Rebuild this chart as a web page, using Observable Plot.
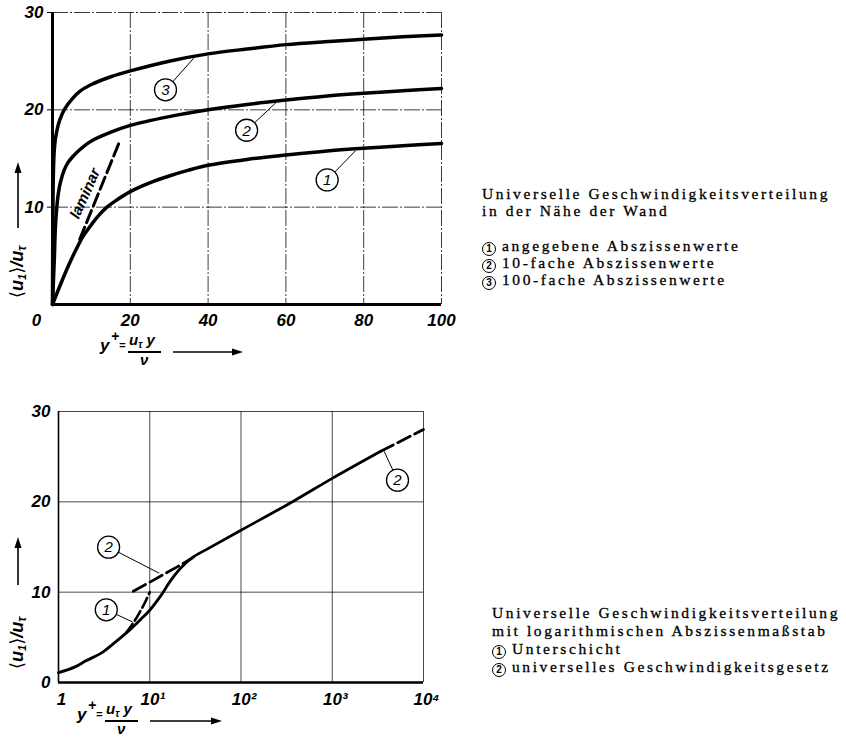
<!DOCTYPE html>
<html><head><meta charset="utf-8">
<script src="https://cdn.jsdelivr.net/npm/d3@7"></script>
<script src="https://cdn.jsdelivr.net/npm/@observablehq/plot@0.6"></script>
<style>
body{margin:0;background:#fff;}
#root{position:relative;width:846px;height:739px;overflow:hidden;background:#fff;}
.abs{position:absolute;}
.leg{position:absolute;font-family:"Liberation Serif",serif;font-size:15.5px;letter-spacing:2.6px;white-space:nowrap;color:#000;line-height:15px;height:15px;-webkit-text-stroke:0.3px #000;}
.lab{font-family:"Liberation Sans",sans-serif;font-style:italic;font-weight:bold;color:#000;white-space:nowrap;}
.br{font-family:"DejaVu Sans",sans-serif;font-style:normal;font-weight:normal;}
.sb{line-height:0;vertical-align:-3px;}
.circ{display:inline-block;width:12px;height:12px;border:1.4px solid #000;border-radius:50%;font-family:"Liberation Sans",sans-serif;font-size:10px;font-weight:bold;line-height:12px;text-align:center;letter-spacing:0;vertical-align:-1px;margin-right:6px;box-sizing:content-box;-webkit-text-stroke:0;}
</style></head>
<body><div id="root"></div>
<script>
// ---------- data: top chart (linear abscissa) ----------
const topTicksX = [20, 40, 60, 80, 100];
const topTicksY = [10, 20, 30];
const curve1X = [0, 2, 4, 6, 8, 10, 12, 14, 16, 20, 25, 30, 35, 40, 50, 60, 70, 80, 90, 100];
const curve1U = [0, 2, 3.9, 5.6, 7.1, 8.2, 9.2, 10.0, 10.6, 11.6, 12.5, 13.2, 13.8, 14.3, 14.9, 15.35, 15.75, 16.05, 16.3, 16.55];
const curve2X = [0, 0.3, 0.5, 0.7, 1, 1.5, 2, 3, 4, 5, 7, 10, 15, 20, 30, 40, 50, 60, 70, 80, 90, 100];
const curve2U = [0, 3, 5, 7.5, 9.5, 11.4, 12.5, 13.8, 14.6, 15.1, 15.9, 16.8, 17.7, 18.4, 19.3, 20.0, 20.55, 21.0, 21.4, 21.7, 21.95, 22.2];
const curve3X = [0, 0.05, 0.1, 0.2, 0.4, 0.7, 1, 1.5, 2, 3, 5, 7, 10, 15, 20, 30, 40, 50, 60, 70, 80, 90, 100];
const curve3U = [0, 5, 9, 13, 15.5, 16.9, 17.6, 18.5, 19.1, 20.0, 21.1, 21.9, 22.6, 23.4, 24.0, 25.0, 25.75, 26.25, 26.7, 27.0, 27.25, 27.5, 27.7];
const laminarX = [7, 17];
const laminarU = [6.7, 16.5];
const topLabels = ["1", "2", "3"];
const topLabelX = [70.6, 49.9, 29.05];
const topLabelU = [12.8, 17.9, 22.06];
const topLeaderX = [77.9, 57.6, 36.3];
const topLeaderU = [15.8, 20.8, 25.3];

// ---------- data: bottom chart (log abscissa) ----------
const botTicksX = [1, 10, 100, 1000, 10000];
const botTickText = ["1", "10¹", "10²", "10³", "10⁴"];
const botTicksY = [0, 10, 20, 30];
const profileX = [1, 1.5, 2, 3, 4, 6, 8, 10, 13, 17, 22, 30, 45, 100, 380, 1000, 3400];
const profileU = [1.1, 1.7, 2.4, 3.3, 4.3, 5.8, 7.0, 8.0, 9.5, 11.3, 12.7, 13.9, 14.9, 16.85, 20.1, 22.6, 25.6];
const sublayerX = [5.5, 6, 7, 8, 9, 10];
const sublayerU = [5.5, 6, 7, 8, 9, 10];
const logLawAX = [6.6, 10, 15, 20, 30];
const logLawAU = [10.1, 11.1, 12.1, 12.8, 13.85];
const logLawBX = [3400, 10000];
const logLawBU = [25.6, 28.0];
const botLabels = ["2", "1", "2"];
const botLabelX = [3.54, 3.34, 5190];
const botLabelU = [14.98, 8.05, 22.4];
const botLeaderX = [12.7, 6.5, 3700];
const botLeaderU = [12.1, 6.7, 25.6];

// ---------- helpers ----------
const pts = (xs, us) => xs.map((x, i) => ({x, u: us[i]}));
const tickFont = {fontFamily: "Liberation Sans", fontSize: 17, fontStyle: "italic", fontWeight: "bold"};
const root = document.getElementById("root");

// ---------- top plot ----------
const topAnno = topLabels.map((t, i) => ({t, x: topLabelX[i], u: topLabelU[i], x2: topLeaderX[i], u2: topLeaderU[i]}));
const topPlot = Plot.plot({
  width: 460, height: 330,
  marginLeft: 52, marginRight: 19, marginTop: 12, marginBottom: 26,
  x: {domain: [0, 100]},
  y: {domain: [0, 30]},
  style: {fontFamily: "Liberation Sans", background: "transparent", overflow: "visible"},
  marks: [
    Plot.gridX(topTicksX, {stroke: "#000", strokeOpacity: 0.85, strokeWidth: 0.9, strokeDasharray: "16,2,2,2"}),
    Plot.gridY(topTicksY, {stroke: "#000", strokeOpacity: 0.85, strokeWidth: 0.9, strokeDasharray: "16,2,2,2"}),
    Plot.axisX(topTicksX, {tickSize: 0, tickPadding: 9, label: null, ...tickFont}),
    Plot.axisY(topTicksY, {tickSize: 5, tickPadding: 4, label: null, ...tickFont}),
    Plot.text([{x: 0, u: 0}], {x: "x", y: "u", text: () => "0", dx: -16, dy: 16, ...tickFont}),
    Plot.line(pts(laminarX, laminarU), {x: "x", y: "u", stroke: "#000", strokeWidth: 3, strokeDasharray: "13,5"}),
    Plot.text([{x: 8.9, u: 11.4}], {x: "x", y: "u", text: () => "laminar", rotate: -66, dx: -2, fontFamily: "Liberation Sans", fontStyle: "italic", fontWeight: "bold", fontSize: 15}),
    Plot.line(pts(curve1X, curve1U), {x: "x", y: "u", stroke: "#000", strokeWidth: 3.5, curve: "catmull-rom"}),
    Plot.line(pts(curve2X, curve2U), {x: "x", y: "u", stroke: "#000", strokeWidth: 3.5, curve: "catmull-rom"}),
    Plot.line(pts(curve3X, curve3U), {x: "x", y: "u", stroke: "#000", strokeWidth: 3.5, curve: "catmull-rom"}),
    Plot.ruleX([0], {stroke: "#000", strokeWidth: 3}),
    Plot.ruleY([0], {stroke: "#000", strokeWidth: 3}),
    Plot.link(topAnno, {x1: "x", y1: "u", x2: "x2", y2: "u2", stroke: "#000", strokeWidth: 1}),
    Plot.dot(topAnno, {x: "x", y: "u", r: 11, fill: "#fff", stroke: "#000", strokeWidth: 1.3}),
    Plot.text(topAnno, {x: "x", y: "u", text: "t", fontFamily: "Liberation Sans", fontStyle: "italic", fontSize: 15, dy: 0.5})
  ]
});
topPlot.style.position = "absolute"; topPlot.style.left = "0px"; topPlot.style.top = "0px";
root.appendChild(topPlot);

// ---------- bottom plot ----------
const botAnno = botLabels.map((t, i) => ({t, x: botLabelX[i], u: botLabelU[i], x2: botLeaderX[i], u2: botLeaderU[i]}));
const botPlot = Plot.plot({
  width: 440, height: 310,
  marginLeft: 58, marginRight: 17, marginTop: 11, marginBottom: 28,
  x: {type: "log", domain: [1, 10000]},
  y: {domain: [0, 30]},
  style: {fontFamily: "Liberation Sans", background: "transparent", overflow: "visible"},
  marks: [
    Plot.gridX(botTicksX.slice(1), {stroke: "#000", strokeOpacity: 0.8, strokeWidth: 0.9}),
    Plot.gridY(botTicksY.slice(1), {stroke: "#000", strokeOpacity: 0.8, strokeWidth: 0.9}),
    Plot.axisX(botTicksX, {tickSize: 0, tickPadding: 10, label: null, tickFormat: (d) => botTickText[botTicksX.indexOf(d)], dx: 3, ...tickFont}),
    Plot.axisY(botTicksY, {tickSize: 0, tickPadding: 8, label: null, ...tickFont}),
    Plot.line(pts(sublayerX, sublayerU), {x: "x", y: "u", stroke: "#000", strokeWidth: 2.6, strokeDasharray: "11,4", curve: "catmull-rom"}),
    Plot.line(pts(logLawAX, logLawAU), {x: "x", y: "u", stroke: "#000", strokeWidth: 2.8, strokeDasharray: "14,5"}),
    Plot.line(pts(logLawBX, logLawBU), {x: "x", y: "u", stroke: "#000", strokeWidth: 2.8, strokeDasharray: "14,5"}),
    Plot.line(pts(profileX, profileU), {x: "x", y: "u", stroke: "#000", strokeWidth: 2.8, curve: "catmull-rom"}),
    Plot.ruleX([1], {stroke: "#000", strokeWidth: 1.6}),
    Plot.ruleY([0], {stroke: "#000", strokeWidth: 2.4}),
    Plot.link(botAnno, {x1: "x", y1: "u", x2: "x2", y2: "u2", stroke: "#000", strokeWidth: 1}),
    Plot.dot(botAnno, {x: "x", y: "u", r: 11, fill: "#fff", stroke: "#000", strokeWidth: 1.3}),
    Plot.text(botAnno, {x: "x", y: "u", text: "t", fontFamily: "Liberation Sans", fontStyle: "italic", fontSize: 15, dy: 0.5})
  ]
});
botPlot.style.position = "absolute"; botPlot.style.left = "0px"; botPlot.style.top = "400px";
root.appendChild(botPlot);

// ---------- axis titles with arrows (HTML overlays) ----------
function arrowSvg(len) {
  const h = 10;
  const line = `<line x1="0" y1="${h/2}" x2="${len-9}" y2="${h/2}" stroke="#000" stroke-width="1.6"/>`;
  const head = `<path d="M${len},${h/2} L${len-11},${h/2-3.5} L${len-11},${h/2+3.5} Z" fill="#000"/>`;
  return `<svg width="${len}" height="${h}" style="position:absolute;left:0;top:0;overflow:visible">${line}${head}</svg>`;
}
function yTitle(left, top, arrowStart, arrowLen) {
  const d = document.createElement("div");
  d.className = "abs";
  d.style.cssText = `left:${left}px;top:${top}px;width:160px;height:24px;transform-origin:0 0;transform:rotate(-90deg);`;
  d.innerHTML = `<span class="lab abs" style="left:2px;top:1px;font-size:18px;line-height:20px;"><span class="br">⟨</span>u<sub class="sb" style="font-size:11px">1</sub><span class="br">⟩</span>/u<sub class="sb" style="font-size:12px">τ</sub></span>` +
    `<div class="abs" style="left:${arrowStart}px;top:7px;">${arrowSvg(arrowLen)}</div>`;
  root.appendChild(d);
}
yTitle(6, 300, 72, 66);
yTitle(6, 671, 86, 48);

function xTitle(L, T, arrowLen) {
  const d = document.createElement("div");
  d.className = "abs";
  d.style.cssText = `left:${L}px;top:${T}px;width:200px;height:28px;`;
  d.innerHTML =
    `<span class="lab abs" style="left:0;top:1px;font-size:17px;line-height:15px;">y</span>` +
    `<span class="lab abs" style="left:11px;top:-6px;font-size:14px;line-height:11px;">+</span>` +
    `<span class="lab abs" style="left:19px;top:4px;font-size:11px;line-height:9px;">=</span>` +
    `<span class="lab abs" style="left:29px;top:-4px;font-size:15px;line-height:13px;">u<sub class="sb" style="font-size:10px">τ</sub> y</span>` +
    `<div class="abs" style="left:28px;top:14px;width:33px;height:1.5px;background:#000"></div>` +
    `<span class="lab abs" style="left:40px;top:17px;font-size:15px;line-height:11px;">ν</span>` +
    `<div class="abs" style="left:73px;top:10px;">${arrowSvg(arrowLen)}</div>`;
  root.appendChild(d);
}
xTitle(100, 337, 70);
xTitle(77, 706, 72);

// ---------- captions / legends ----------
function leg(x, y, html) {
  const d = document.createElement("div");
  d.className = "leg";
  d.style.left = x + "px"; d.style.top = (y - 7) + "px";
  d.innerHTML = html;
  root.appendChild(d);
}
leg(482, 193, "Universelle Geschwindigkeitsverteilung");
leg(482, 210, "in der Nähe der Wand");
leg(482, 245, `<span class="circ">1</span>angegebene Abszissenwerte`);
leg(482, 262, `<span class="circ">2</span>10-fache Abszissenwerte`);
leg(482, 279, `<span class="circ">3</span>100-fache Abszissenwerte`);
leg(492, 612, "Universelle Geschwindigkeitsverteilung");
leg(492, 630, "mit logarithmischen Abszissenmaßstab");
leg(492, 648, `<span class="circ">1</span>Unterschicht`);
leg(492, 666, `<span class="circ">2</span>universelles Geschwindigkeitsgesetz`);
</script>
</body></html>
